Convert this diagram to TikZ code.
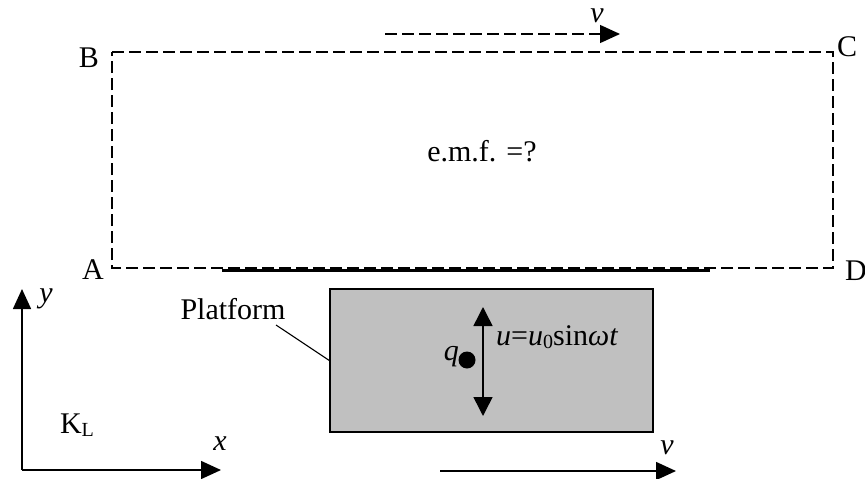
\documentclass[tikz,border=0pt]{standalone}
\usepackage{fontspec}
\setmainfont{Liberation Serif}
\usetikzlibrary{arrows.meta}
\newcommand{\mysubs}[1]{\raisebox{-0.25ex}{\fontsize{20}{20}\selectfont #1}}
\begin{document}
\begin{tikzpicture}[x=1pt,y=-1pt,
  lbl/.style={inner sep=0pt, font=\fontsize{30}{33}\selectfont},
  dashline/.style={line width=1.4pt, dash pattern=on 12pt off 5pt},
  tri/.style={-{Triangle[length=20pt,width=18pt]}},
  solidarrow/.style={line width=1.5pt, tri}]
\useasboundingbox (0,0) rectangle (865,479);
% circuit corners
\coordinate (A) at (112,268);
\coordinate (B) at (112,52);
\coordinate (C) at (833,52);
\coordinate (D) at (833,268);
\draw[dashline] (B) -- (C) -- (D) -- (A) -- cycle;
% conductor on bottom side
\coordinate (ts) at (222,270.5);
\coordinate (te) at (710,270.5);
\draw[line width=3.5pt] (ts) -- (te);
% corner labels
\node[lbl] (lA) at (93,270) {A};
\node[lbl] (lB) at (89,58) {B};
\node[lbl] (lC) at (847,47) {C};
\node[lbl, anchor=west] (lD) at (845,271) {D};
\node[lbl] (emf) at (482,151) {e.m.f. =?};
% top velocity arrow
\coordinate (vs) at (385,34);
\coordinate (ve) at (620,34);
\draw[dashline, tri] (vs) -- (ve);
\node[lbl] (v1) at (597,16) {\textit{v}};
% platform
\node[draw, line width=1.3pt, fill={rgb,255:red,192;green,192;blue,192}, minimum width=323pt, minimum height=143pt, inner sep=0pt] (plat) at (491.5,360.5) {};
\node[lbl] (plab) at (233,309) {Platform};
\coordinate (pl) at (276,325);
\draw[line width=1.1pt] (pl) -- (plat.west);
% oscillation arrow
\coordinate (ut) at (483,307);
\coordinate (ub) at (483,416);
\draw[line width=1.5pt, {Triangle[length=19pt,width=19pt]}-{Triangle[length=19pt,width=19pt]}] (ub) -- (ut);
\node[circle, fill=black, minimum size=17pt, inner sep=0pt] (q) at (467,360) {};
\node[lbl, anchor=east] (ql) at (459,357) {\textit{q}};
\node[lbl, anchor=west] (ueq) at (496,337) {\textit{u}=\textit{u}\mysubs{0}sin\textit{ωt}};
% axes
\coordinate (O) at (22,470);
\coordinate (xe) at (221,470);
\coordinate (ye) at (22,289);
\draw[solidarrow] (O) -- (xe);
\draw[solidarrow] (O) -- (ye);
\node[lbl] (xl) at (220,444) {\textit{x}};
\node[lbl] (yl) at (46,299) {\textit{y}};
\node[lbl] (KL) at (77,425) {K\mysubs{L}};
% bottom velocity arrow
\coordinate (ws) at (440,471);
\coordinate (we) at (676,471);
\draw[solidarrow] (ws) -- (we);
\node[lbl] (v2) at (667,448) {\textit{v}};
\end{tikzpicture}
\end{document}
